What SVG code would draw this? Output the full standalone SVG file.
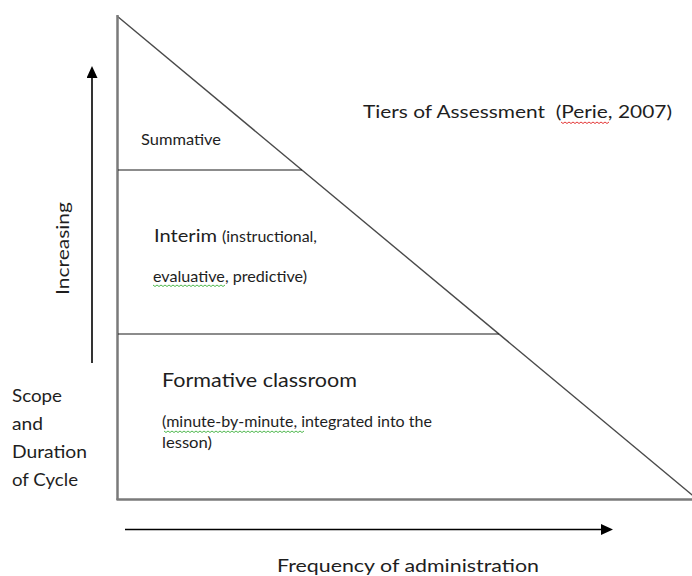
<svg xmlns="http://www.w3.org/2000/svg" width="692" height="576" viewBox="0 0 692 576">
<defs>
<style>
text{font-family:Lato,"Open Sans","Liberation Sans",sans-serif;fill:#1e1e1e}
.l18{font-size:18px}
.l16{font-size:16px}
.l15{font-size:15px}
.edge{stroke:#7a7a7a;stroke-width:2.5;fill:none}
.hyp{stroke:#4a4a4a;stroke-width:1.4;fill:none}
.div{stroke:#1a1a1a;stroke-width:1.2;fill:none}
.arrow{stroke:#000;stroke-width:1.6;fill:none;marker-end:url(#ah)}
.sq{fill:none;stroke-width:0.9}
</style>
<marker id="ah" markerUnits="userSpaceOnUse" markerWidth="12" markerHeight="11" viewBox="0 0 12 11" refX="0" refY="5.5" orient="auto">
<path d="M0,0 L12,5.5 L0,11 z" fill="#000"/>
</marker>
</defs>
<rect width="692" height="576" fill="#fff"/>

<g id="pyramid">
<line class="hyp" x1="117" y1="16" x2="697" y2="499"/>
<line class="edge" x1="117.5" y1="15" x2="117.5" y2="500"/>
<line class="edge" x1="116.5" y1="499.5" x2="692" y2="499.5"/>
</g>

<g id="summative">
<line class="div" x1="118" y1="170" x2="302" y2="170"/>
<text class="l16" x="141" y="145" textLength="80" lengthAdjust="spacingAndGlyphs">Summative</text>
</g>

<g id="interim">
<line class="div" x1="118" y1="334" x2="499" y2="334"/>
<text x="154" y="242"><tspan class="l18" x="154" textLength="63" lengthAdjust="spacingAndGlyphs">Interim</tspan><tspan class="l15" x="222" textLength="95" lengthAdjust="spacingAndGlyphs">(instructional,</tspan></text>
<text class="l15" x="153" y="282" textLength="154" lengthAdjust="spacingAndGlyphs">evaluative, predictive)</text>
<path class="sq" stroke="#3bb03b" d="M153,285 l2,1.5 l2,-1.5 l2,1.5 l2,-1.5 l2,1.5 l2,-1.5 l2,1.5 l2,-1.5 l2,1.5 l2,-1.5 l2,1.5 l2,-1.5 l2,1.5 l2,-1.5 l2,1.5 l2,-1.5 l2,1.5 l2,-1.5 l2,1.5 l2,-1.5 l2,1.5 l2,-1.5 l2,1.5 l2,-1.5 l2,1.5 l2,-1.5 l2,1.5 l2,-1.5 l2,1.5 l2,-1.5 l2,1.5 l2,-1.5 l2,1.5 l2,-1.5 l2,1.5 l2,-1.5"/>
</g>

<g id="formative">
<text class="l18" x="162" y="387" textLength="195" lengthAdjust="spacingAndGlyphs" style="font-size:19px">Formative classroom</text>
<text class="l15" x="162" y="427" textLength="270" lengthAdjust="spacingAndGlyphs">(minute-by-minute, integrated into the</text>
<text class="l15" x="162" y="448" textLength="50" lengthAdjust="spacingAndGlyphs">lesson)</text>
<path class="sq" stroke="#3bb03b" d="M164,431 l2,1.5 l2,-1.5 l2,1.5 l2,-1.5 l2,1.5 l2,-1.5 l2,1.5 l2,-1.5 l2,1.5 l2,-1.5 l2,1.5 l2,-1.5 l2,1.5 l2,-1.5 l2,1.5 l2,-1.5 l2,1.5 l2,-1.5 l2,1.5 l2,-1.5 l2,1.5 l2,-1.5 l2,1.5 l2,-1.5 l2,1.5 l2,-1.5 l2,1.5 l2,-1.5 l2,1.5 l2,-1.5 l2,1.5 l2,-1.5 l2,1.5 l2,-1.5 l2,1.5 l2,-1.5 l2,1.5 l2,-1.5 l2,1.5 l2,-1.5 l2,1.5 l2,-1.5 l2,1.5 l2,-1.5 l2,1.5 l2,-1.5 l2,1.5 l2,-1.5 l2,1.5 l2,-1.5 l2,1.5 l2,-1.5 l2,1.5 l2,-1.5 l2,1.5 l2,-1.5 l2,1.5 l2,-1.5 l2,1.5 l2,-1.5 l2,1.5 l2,-1.5 l2,1.5 l2,-1.5 l2,1.5 l2,-1.5 l2,1.5 l2,-1.5 l2,1.5 l2,-1.5"/>
</g>

<g id="title">
<text class="l18" x="363" y="118" xml:space="preserve" style="white-space:pre" textLength="309" lengthAdjust="spacingAndGlyphs">Tiers of Assessment  (Perie, 2007)</text>
<path class="sq" stroke="#e02020" d="M561,122 l2,1.5 l2,-1.5 l2,1.5 l2,-1.5 l2,1.5 l2,-1.5 l2,1.5 l2,-1.5 l2,1.5 l2,-1.5 l2,1.5 l2,-1.5 l2,1.5 l2,-1.5 l2,1.5 l2,-1.5 l2,1.5 l2,-1.5 l2,1.5 l2,-1.5 l2,1.5 l2,-1.5 l2,1.5 l2,-1.5"/>
</g>

<g id="scope-axis">
<text class="l18" transform="translate(69,295) rotate(-90)" x="0" y="0" textLength="93" lengthAdjust="spacingAndGlyphs">Increasing</text>
<text class="l18" x="12" y="402" textLength="50" lengthAdjust="spacingAndGlyphs">Scope</text>
<text class="l18" x="12" y="430" textLength="31" lengthAdjust="spacingAndGlyphs">and</text>
<text class="l18" x="12" y="458" textLength="75" lengthAdjust="spacingAndGlyphs">Duration</text>
<text class="l18" x="12" y="486" textLength="66" lengthAdjust="spacingAndGlyphs">of Cycle</text>
</g>

<g id="frequency-axis">
<text class="l18" x="277" y="572" textLength="262" lengthAdjust="spacingAndGlyphs">Frequency of administration</text>
</g>

<g id="connectors">
<line class="arrow" x1="92" y1="363" x2="92" y2="78"/>
<line class="arrow" x1="125" y1="529.5" x2="601" y2="529.5"/>
</g>
</svg>
